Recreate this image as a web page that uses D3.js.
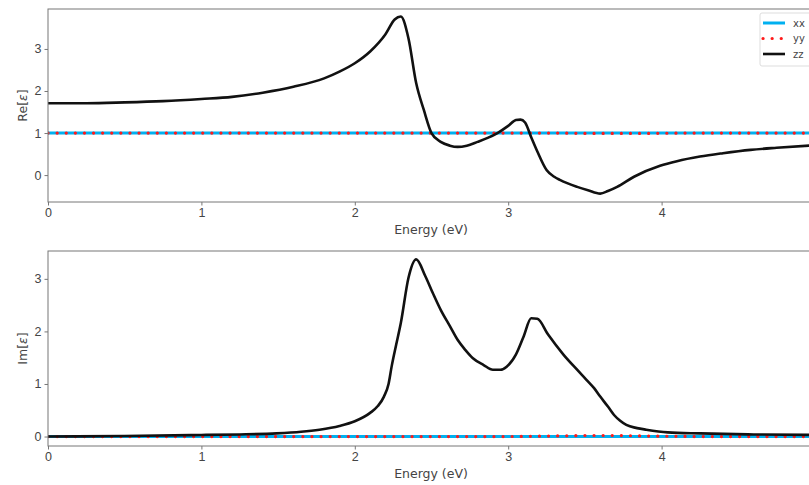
<!DOCTYPE html>
<html>
<head>
<meta charset="utf-8">
<script src="https://cdn.jsdelivr.net/npm/d3@7"></script>
<style>
  body { margin: 0; background: #fff; }
  svg { display: block; font-family: "DejaVu Sans", sans-serif; }
</style>
</head>
<body>
<div id="chart"></div>
<script>
// values
const reEnergy = [0, 0.25, 0.5, 0.75, 1.0, 1.2, 1.4, 1.6, 1.8, 1.9, 2.0, 2.1, 2.2, 2.26, 2.30, 2.35, 2.40, 2.45, 2.50, 2.56, 2.62, 2.67, 2.73, 2.80, 2.87, 2.93, 3.0, 3.05, 3.08, 3.11, 3.15, 3.19, 3.25, 3.30, 3.34, 3.45, 3.52, 3.60, 3.65, 3.71, 3.82, 3.99, 4.1, 4.25, 4.4, 4.58, 4.75, 5.0];
const reZZ = [1.71, 1.71, 1.73, 1.76, 1.81, 1.86, 1.96, 2.10, 2.30, 2.46, 2.66, 2.94, 3.35, 3.70, 3.77, 3.25, 2.19, 1.55, 1.0, 0.79, 0.70, 0.67, 0.70, 0.79, 0.89, 1.0, 1.17, 1.31, 1.32, 1.25, 0.90, 0.56, 0.12, -0.04, -0.12, -0.28, -0.36, -0.44, -0.38, -0.28, -0.04, 0.22, 0.33, 0.44, 0.52, 0.60, 0.65, 0.71];

const imEnergy = [0, 0.5, 1.0, 1.25, 1.49, 1.65, 1.77, 1.9, 2.0, 2.1, 2.15, 2.19, 2.22, 2.24, 2.27, 2.30, 2.35, 2.40, 2.46, 2.51, 2.56, 2.62, 2.67, 2.72, 2.77, 2.84, 2.90, 2.95, 2.99, 3.05, 3.10, 3.15, 3.19, 3.26, 3.36, 3.44, 3.51, 3.56, 3.60, 3.65, 3.69, 3.73, 3.77, 3.84, 3.90, 4.04, 4.25, 4.6, 5.0];
const imZZ = [0.0, 0.01, 0.03, 0.04, 0.06, 0.09, 0.13, 0.20, 0.29, 0.45, 0.58, 0.76, 1.0, 1.33, 1.75, 2.16, 3.02, 3.37, 3.05, 2.72, 2.41, 2.10, 1.84, 1.65, 1.49, 1.36, 1.27, 1.27, 1.33, 1.56, 1.90, 2.25, 2.24, 1.94, 1.56, 1.30, 1.08, 0.92, 0.76, 0.57, 0.41, 0.30, 0.22, 0.16, 0.13, 0.08, 0.06, 0.04, 0.03];

// xx and yy stay flat
const flatEnergy = [0, 1, 2, 3, 3.3, 3.5, 3.7, 3.9, 4.2, 5];
const reXX = [1.0, 1.0, 1.0, 1.0, 1.0, 1.0, 1.0, 1.0, 1.0, 1.0];
const reYY = [1.0, 1.0, 1.0, 1.0, 1.0, 0.99, 0.99, 0.99, 1.0, 1.0];
const imXX = [0.0, 0.0, 0.0, 0.0, 0.0, 0.0, 0.0, 0.0, 0.0, 0.0];
const imYY = [0.0, 0.0, 0.0, 0.0, 0.01, 0.02, 0.02, 0.01, 0.0, 0.0];

const xTicks = [0, 1, 2, 3, 4];
const reTicks = [0, 1, 2, 3];
const imTicks = [0, 1, 2, 3];
const legendNames = ["xx", "yy", "zz"];

const W = 809, H = 485;
const svg = d3.select("#chart").append("svg")
    .attr("width", W)
    .attr("height", H);

const x = d3.scaleLinear().domain([0, 5]).range([48, 815]);

function panel(top, bottom, yDomain, ticks, zE, xx, yy, zz, label, withLegend) {
    let y = d3.scaleLinear().domain(yDomain).range([bottom, top]);
    let g = svg.append("g");

    let clipId = "clip" + top;
    svg.append("clipPath").attr("id", clipId)
        .append("rect").attr("x", 48).attr("y", top).attr("width", 815 - 48).attr("height", bottom - top);

    let flatLine = d3.line().x((d, i) => x(flatEnergy[i])).y(d => y(d));
    let zLine = d3.line().x((d, i) => x(zE[i])).y(d => y(d)).curve(d3.curveMonotoneX);
    let plot = g.append("g").attr("clip-path", `url(#${clipId})`);

    plot.append("path").datum(xx)
        .attr("d", flatLine).attr("fill", "none")
        .attr("stroke", "#00b0f0").attr("stroke-width", 3);
    plot.append("path").datum(yy)
        .attr("d", flatLine).attr("fill", "none")
        .attr("stroke", "#ff1a1a").attr("stroke-width", 3.2)
        .attr("stroke-linecap", "round")
        .attr("stroke-dasharray", "0.1,9");
    plot.append("path").datum(zz)
        .attr("d", zLine).attr("fill", "none")
        .attr("stroke", "#111").attr("stroke-width", 2.6)
        .attr("stroke-linejoin", "round");

    // frame
    g.append("rect")
        .attr("x", 48).attr("y", top)
        .attr("width", 815 - 48).attr("height", bottom - top)
        .attr("fill", "none").attr("stroke", "#777").attr("stroke-width", 1);

    let xAxis = g.append("g")
        .attr("transform", `translate(0,${bottom})`)
        .call(d3.axisBottom(x).tickValues(xTicks).tickFormat(d3.format("d")).tickSize(3.5).tickPadding(3));
    let yAxis = g.append("g")
        .attr("transform", "translate(48,0)")
        .call(d3.axisLeft(y).tickValues(ticks).tickFormat(d3.format("d")).tickSize(3.5).tickPadding(3));
    [xAxis, yAxis].forEach(a => {
        a.select(".domain").remove();
        a.selectAll("line").attr("stroke", "#777");
        a.selectAll("text").attr("fill", "#444").attr("font-size", 12.5);
    });

    g.append("text")
        .attr("x", 431).attr("y", bottom + 32)
        .attr("text-anchor", "middle")
        .attr("fill", "#444").attr("font-size", 12.5)
        .text("Energy (eV)");

    let lab = g.append("text")
        .attr("transform", `translate(27,${(top + bottom) / 2}) rotate(-90)`)
        .attr("text-anchor", "middle")
        .attr("fill", "#444").attr("font-size", 12.5);
    lab.append("tspan").text(label + "[");
    lab.append("tspan").attr("font-style", "italic").text("ε");
    lab.append("tspan").text("]");

    if (withLegend) {
        let lg = g.append("g").attr("transform", "translate(760,13)");
        lg.append("rect").attr("width", 60).attr("height", 53).attr("rx", 2)
            .attr("fill", "#fff").attr("stroke", "#ddd");
        let styles = [
            { stroke: "#00b0f0", w: 3, dash: null },
            { stroke: "#ff1a1a", w: 3.2, dash: "0.1,9" },
            { stroke: "#111", w: 2.6, dash: null }
        ];
        legendNames.forEach((n, i) => {
            let yy0 = 10 + i * 15.5;
            lg.append("line").attr("x1", 3).attr("x2", 25).attr("y1", yy0).attr("y2", yy0)
                .attr("stroke", styles[i].stroke).attr("stroke-width", styles[i].w)
                .attr("stroke-linecap", styles[i].dash ? "round" : "butt")
                .attr("stroke-dasharray", styles[i].dash);
            lg.append("text").attr("x", 33).attr("y", yy0 + 3.5)
                .attr("fill", "#444").attr("font-size", 10).text(n);
        });
    }
}

panel(9, 202, [-0.64, 3.95], reTicks, reEnergy, reXX, reYY, reZZ, "Re", true);
panel(251, 446, [-0.18, 3.53], imTicks, imEnergy, imXX, imYY, imZZ, "Im", false);
</script>
</body>
</html>
